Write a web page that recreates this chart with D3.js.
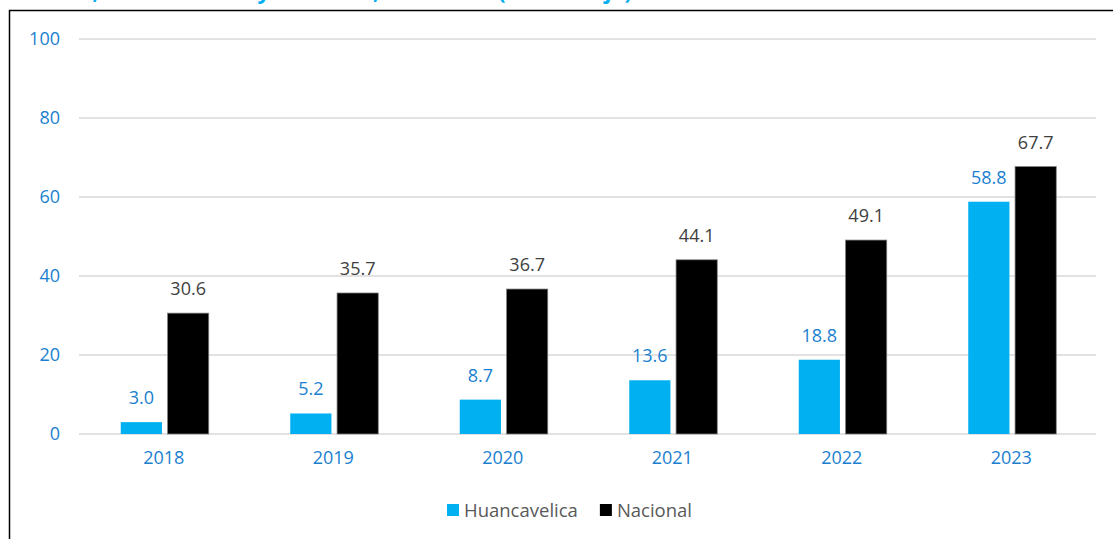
<!DOCTYPE html>
<html>
<head>
<meta charset="utf-8">
<script src="https://cdn.jsdelivr.net/npm/d3@7"></script>
<style>
  body { margin: 0; background: #fff; }
  text { font-family: "Open Sans", Roboto, sans-serif; }
</style>
</head>
<body>
<svg width="1113" height="539"></svg>
<script>
let years = ["2018", "2019", "2020", "2021", "2022", "2023"];
let series = ["Huancavelica", "Nacional"];
let huancavelica = [3.0, 5.2, 8.7, 13.6, 18.8, 58.8];
let nacional = [30.6, 35.7, 36.7, 44.1, 49.1, 67.7];
let yTicks = [0, 20, 40, 60, 80, 100];

let colors = { Huancavelica: "#00b0f0", Nacional: "#000000" };
let labelColors = { Huancavelica: "#1a7fcf", Nacional: "#404040" };
let font = "'Open Sans', Roboto, sans-serif";

let rows = years.map((y, i) => ({
  year: y,
  Huancavelica: huancavelica[i],
  Nacional: nacional[i]
}));

let svg = d3.select("svg");

// title, mostly cut off by the top edge
svg.append("text")
  .attr("x", 632)
  .attr("y", -1)
  .attr("text-anchor", "end")
  .style("font-size", "22px")
  .style("font-weight", "bold")
  .style("fill", "#00b0f0")
  .text("Población con acceso a internet, Huancavelica y Nacional, 2018-2023 (Porcentaje)");

// frame
svg.append("rect")
  .attr("x", 9.5)
  .attr("y", 10.5)
  .attr("width", 1120)
  .attr("height", 560)
  .style("fill", "none")
  .style("stroke", "#000")
  .style("stroke-width", 1.5);

let x = d3.scaleBand()
  .domain(years)
  .range([79, 1096]);

let xInner = d3.scaleBand()
  .domain(series)
  .range([0, 88])
  .paddingInner(0.12);

let y = d3.scaleLinear()
  .domain([0, 100])
  .range([434, 39]);

// gridlines
svg.append("g")
  .selectAll("line")
  .data(yTicks)
  .enter()
  .append("line")
  .attr("x1", 79)
  .attr("x2", 1096)
  .attr("y1", d => y(d))
  .attr("y2", d => y(d))
  .style("stroke", "#d9d9d9")
  .style("stroke-width", 1.5);

// y axis labels
let yAxis = svg.append("g")
  .attr("transform", "translate(60,0)")
  .call(d3.axisLeft(y).tickValues(yTicks).tickSize(0).tickPadding(0));
yAxis.select(".domain").remove();
yAxis.selectAll("text")
  .style("font-size", "18px")
  .style("fill", "#1a7fcf")
  .style("font-family", font);

// x axis labels
let xAxis = svg.append("g")
  .attr("transform", "translate(0,451)")
  .call(d3.axisBottom(x).tickSize(0).tickPadding(0));
xAxis.select(".domain").remove();
xAxis.selectAll("text")
  .style("font-size", "18px")
  .style("fill", "#1a7fcf")
  .style("font-family", font);

// bars
let groups = svg.append("g")
  .selectAll("g")
  .data(rows)
  .enter()
  .append("g")
  .attr("transform", d => "translate(" + (x(d.year) + x.bandwidth() / 2 - 43) + ",0)");

groups.selectAll("rect")
  .data(d => series.map(s => ({ key: s, value: d[s] })))
  .enter()
  .append("rect")
  .attr("x", d => xInner(d.key))
  .attr("width", xInner.bandwidth())
  .attr("y", d => y(d.value))
  .attr("height", d => y(0) - y(d.value))
  .style("fill", d => colors[d.key])
  .style("stroke", d => (d.key === "Nacional" ? "#7f7f7f" : "none"))
  .style("stroke-width", 0.75);

groups.selectAll("text")
  .data(d => series.map(s => ({ key: s, value: d[s] })))
  .enter()
  .append("text")
  .attr("x", d => xInner(d.key) + xInner.bandwidth() / 2)
  .attr("y", d => y(d.value) - 18)
  .attr("text-anchor", "middle")
  .style("font-size", "18px")
  .style("fill", d => labelColors[d.key])
  .text(d => d.value.toFixed(1));

// legend
let legend = svg.append("g").attr("transform", "translate(447,504)");
let lx = 0;
series.forEach(s => {
  legend.append("rect")
    .attr("x", lx)
    .attr("y", 0)
    .attr("width", 12)
    .attr("height", 12)
    .style("fill", colors[s]);
  let t = legend.append("text")
    .attr("x", lx + 17)
    .attr("y", 12.5)
    .style("font-size", "18.5px")
    .style("fill", "#595959")
    .text(s);
  lx += 17 + t.node().getComputedTextLength() + 22;
});
</script>
</body>
</html>
